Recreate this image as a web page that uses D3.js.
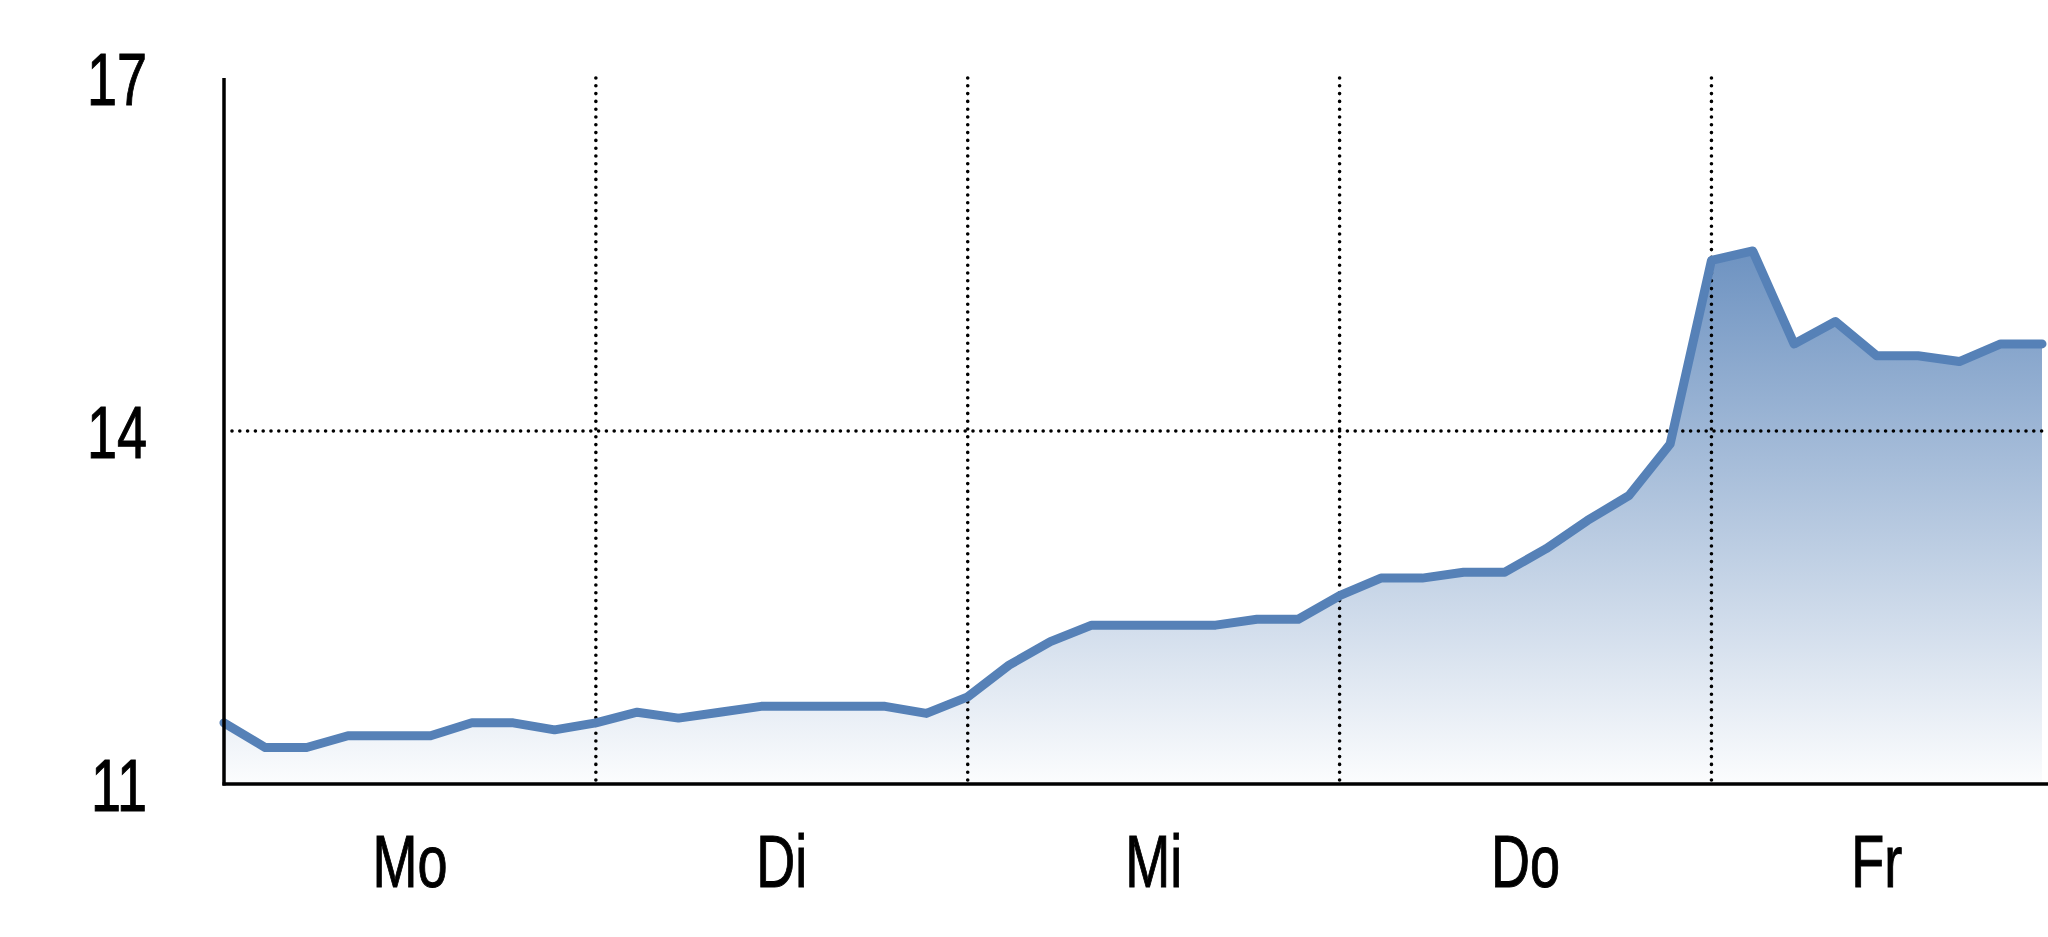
<!DOCTYPE html>
<html>
<head>
<meta charset="utf-8">
<script src="https://cdn.jsdelivr.net/npm/d3@7"></script>
<style>
  html, body { margin: 0; padding: 0; background: #ffffff; }
  svg { display: block; }
  text { font-family: "Liberation Sans", Arial, Helvetica, sans-serif; fill: #000; }
</style>
</head>
<body>
<svg id="chart" width="2048" height="937"></svg>
<script>
// ---- data ----
const days = ["Mo", "Di", "Mi", "Do", "Fr"];
const stepsPerDay = 9;
const values = [
  11.52, 11.31, 11.31, 11.41, 11.41, 11.41, 11.52, 11.52, 11.46,
  11.52, 11.61, 11.56, 11.61, 11.66, 11.66, 11.66, 11.66, 11.60,
  11.74, 12.01, 12.21, 12.35, 12.35, 12.35, 12.35, 12.40, 12.40,
  12.60, 12.75, 12.75, 12.80, 12.80, 13.00, 13.24, 13.45, 13.89,
  15.45, 15.53, 14.74, 14.93, 14.64, 14.64, 14.59, 14.74, 14.74
];
const yTicks = [11, 14, 17];
const gridValues = [14];

// ---- layout ----
const W = 2048, H = 937;
const mLeft = 224, mRight = 2042, mTop = 78, mBottom = 784;
const n = values.length;

const svg = d3.select("#chart");
const x = d3.scaleLinear().domain([0, n - 1]).range([mLeft, mRight]);
const y = d3.scaleLinear().domain([11, 17]).range([mBottom, mTop]);

// gradient
const defs = svg.append("defs");
const grad = defs.append("linearGradient")
  .attr("id", "areaGrad")
  .attr("gradientUnits", "userSpaceOnUse")
  .attr("x1", 0).attr("x2", 0)
  .attr("y1", y(d3.max(values))).attr("y2", y(11));
grad.append("stop").attr("offset", 0).attr("stop-color", "#5681b7").attr("stop-opacity", 0.86);
grad.append("stop").attr("offset", 1).attr("stop-color", "#5681b7").attr("stop-opacity", 0.02);

// area
const area = d3.area()
  .x((d, i) => x(i))
  .y0(y(11))
  .y1(d => y(d));
svg.append("path")
  .datum(values)
  .attr("d", area)
  .attr("fill", "url(#areaGrad)");

// dotted grid lines
const dotted = { stroke: "#000", "stroke-width": 3.6, "stroke-linecap": "round", "stroke-dasharray": "0,7.8" };
const gridG = svg.append("g");
gridValues.forEach(v => {
  const l = gridG.append("line")
    .attr("x1", x(0) + 8).attr("x2", W - 4)
    .attr("y1", y(v)).attr("y2", y(v));
  Object.entries(dotted).forEach(([k, val]) => l.attr(k, val));
});
const boundaries = d3.range(1, days.length).map(i => i * stepsPerDay);
boundaries.forEach(b => {
  const l = gridG.append("line")
    .attr("x1", x(b)).attr("x2", x(b))
    .attr("y1", y(17)).attr("y2", y(11) - 4);
  Object.entries(dotted).forEach(([k, val]) => l.attr(k, val));
});

// line
const line = d3.line()
  .x((d, i) => x(i))
  .y(d => y(d));
svg.append("path")
  .datum(values)
  .attr("d", line)
  .attr("fill", "none")
  .attr("stroke", "#5681b7")
  .attr("stroke-width", 9)
  .attr("stroke-linejoin", "round")
  .attr("stroke-linecap", "round");

// axes lines
svg.append("line")
  .attr("x1", mLeft).attr("x2", mLeft)
  .attr("y1", y(17)).attr("y2", y(11) + 1.5)
  .attr("stroke", "#000").attr("stroke-width", 3.5);
svg.append("line")
  .attr("x1", mLeft - 1.5).attr("x2", W)
  .attr("y1", y(11)).attr("y2", y(11))
  .attr("stroke", "#000").attr("stroke-width", 3.5);

// y tick labels via d3 axis
const sx = 0.73;
const yAxis = d3.axisLeft(y).tickValues(yTicks).tickSize(0).tickFormat(d3.format("d"));
const yAxisG = svg.append("g").attr("transform", `translate(${mLeft},0)`).call(yAxis);
yAxisG.select(".domain").remove();
yAxisG.selectAll("text")
  .attr("font-size", 74)
  .attr("font-family", "Liberation Sans, Arial, sans-serif")
  .attr("fill", "#000")
  .attr("stroke", "#000")
  .attr("stroke-width", 1.0)
  .attr("x", -77 / sx)
  .attr("dy", "0.36em")
  .attr("transform", `scale(${sx},1)`);

// day labels
const labelG = svg.append("g");
days.forEach((d, i) => {
  const s = i * stepsPerDay;
  const e = Math.min(s + stepsPerDay, n - 1);
  const cx = x((s + e) / 2);
  labelG.append("text")
    .attr("transform", `translate(${cx},887) scale(${sx},1)`)
    .attr("text-anchor", "middle")
    .attr("font-size", 74)
    .attr("stroke", "#000")
    .attr("stroke-width", 1.0)
    .text(d);
});
</script>
</body>
</html>
